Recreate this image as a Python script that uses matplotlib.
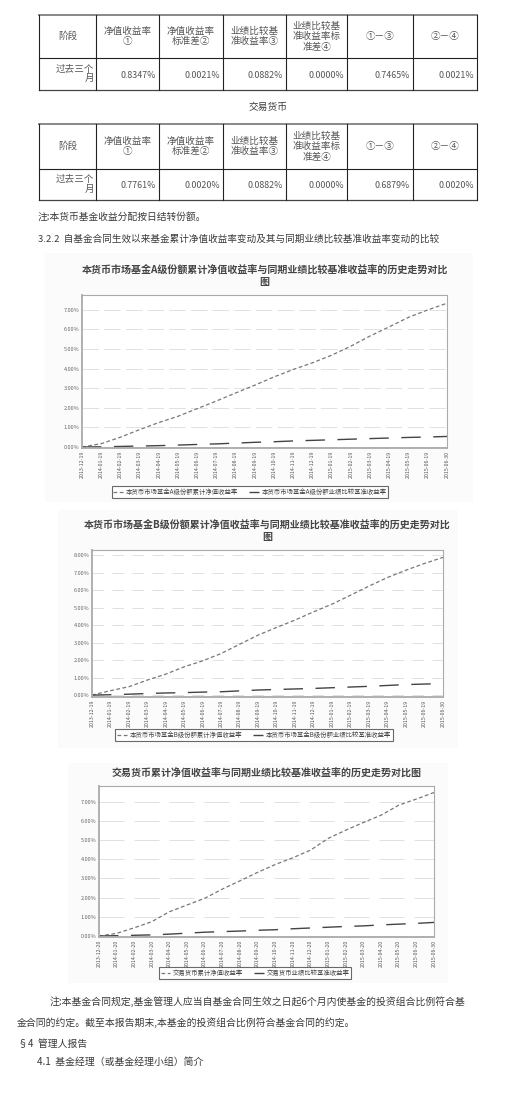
import matplotlib
matplotlib.use('Agg')
import matplotlib.pyplot as plt
from matplotlib.patches import Rectangle

plt.rcParams['font.family'] = ['Noto Sans CJK SC', 'DejaVu Sans']

W, H = 523, 1107

# --- table data ---
table_headers = ['阶段', '净值收益率\n①', '净值收益率\n标准差②', '业绩比较基\n准收益率③',
                 '业绩比较基\n准收益率标\n准差④', '①－③', '②－④']
period_label = '过去三个\n月'
table1_values = ['0.8347%', '0.0021%', '0.0882%', '0.0000%', '0.7465%', '0.0021%']
table2_values = ['0.7761%', '0.0020%', '0.0882%', '0.0000%', '0.6879%', '0.0020%']
table2_caption = '交易货币'

# --- chart data (cumulative %) ---
dates_ab = ['2013-12-19', '2014-01-19', '2014-02-19', '2014-03-19', '2014-04-19',
            '2014-05-19', '2014-06-19', '2014-07-19', '2014-08-19', '2014-09-19',
            '2014-10-19', '2014-11-19', '2014-12-19', '2015-01-19', '2015-02-19',
            '2015-03-19', '2015-04-19', '2015-05-19', '2015-06-19', '2015-06-30']
dates_trade = ['2013-12-20', '2014-01-20', '2014-02-20', '2014-03-20', '2014-04-20',
               '2014-05-20', '2014-06-20', '2014-07-20', '2014-08-20', '2014-09-20',
               '2014-10-20', '2014-11-20', '2014-12-20', '2015-01-20', '2015-02-20',
               '2015-03-20', '2015-04-20', '2015-05-20', '2015-06-20', '2015-06-30']

fund_a = [0.00, 0.17, 0.50, 0.89, 1.25, 1.57, 1.96, 2.35, 2.76, 3.16,
          3.58, 3.96, 4.30, 4.69, 5.15, 5.67, 6.14, 6.62, 7.00, 7.34]
bench_a = [0.00, 0.01, 0.03, 0.05, 0.07, 0.10, 0.13, 0.16, 0.20, 0.24,
           0.27, 0.31, 0.34, 0.37, 0.40, 0.43, 0.46, 0.49, 0.51, 0.54]

fund_b = [0.00, 0.25, 0.48, 0.86, 1.20, 1.62, 1.96, 2.38, 2.91, 3.43,
          3.87, 4.29, 4.76, 5.20, 5.71, 6.23, 6.72, 7.14, 7.52, 7.87]
bench_b = [0.00, 0.02, 0.05, 0.09, 0.12, 0.14, 0.17, 0.19, 0.24, 0.29,
           0.32, 0.35, 0.38, 0.42, 0.46, 0.50, 0.55, 0.60, 0.63, 0.66]

fund_t = [0.00, 0.14, 0.43, 0.75, 1.27, 1.62, 1.97, 2.45, 2.88, 3.32,
          3.73, 4.08, 4.48, 5.09, 5.52, 5.92, 6.30, 6.82, 7.14, 7.48]
bench_t = [0.00, 0.02, 0.04, 0.06, 0.10, 0.15, 0.20, 0.23, 0.26, 0.30,
           0.33, 0.38, 0.42, 0.46, 0.50, 0.53, 0.58, 0.62, 0.66, 0.71]

yticks_a = [0, 1, 2, 3, 4, 5, 6, 7]
yticks_b = [0, 1, 2, 3, 4, 5, 6, 7, 8]
yticks_t = [0, 1, 2, 3, 4, 5, 6, 7]

title_a = '本货币市场基金A级份额累计净值收益率与同期业绩比较基准收益率的历史走势对比\n图'
title_b = '本货币市场基金B级份额累计净值收益率与同期业绩比较基准收益率的历史走势对比\n图'
title_t = '交易货币累计净值收益率与同期业绩比较基准收益率的历史走势对比图'
legend_a = ['本货币市场基金A级份额累计净值收益率', '本货币市场基金A级份额业绩比较基准收益率']
legend_b = ['本货币市场基金B级份额累计净值收益率', '本货币市场基金B级份额业绩比较基准收益率']
legend_t = ['交易货币累计净值收益率', '交易货币业绩比较基准收益率']

TXT = '#3a3a3a'

fig = plt.figure(figsize=(W / 100, H / 100), dpi=100)
bg = fig.add_axes([0, 0, 1, 1])
bg.set_xlim(0, W)
bg.set_ylim(H, 0)
bg.axis('off')


def draw_table(top, head_h, row_h, values):
    cols = [39, 96, 159, 223, 286, 347, 413, 477]
    bottom = top + head_h + row_h
    bg.plot([cols[0], cols[-1]], [top, top], color='#888', lw=1.4)
    bg.plot([cols[0], cols[-1]], [top + head_h, top + head_h], color='#222', lw=0.8)
    bg.plot([cols[0], cols[-1]], [bottom, bottom], color='#444', lw=0.9)
    for x in cols:
        bg.plot([x, x], [top, bottom], color='#222', lw=0.8)
    for i, h in enumerate(table_headers):
        bg.text((cols[i] + cols[i + 1]) / 2, top + head_h / 2, h, ha='center', va='center',
                fontsize=6.9, color='#555', linespacing=1.15)
    bg.text(cols[1] - 2, top + head_h + row_h / 2, period_label, ha='right', va='center',
            multialignment='right', fontsize=6.9, color='#555', linespacing=1.1)
    for i, v in enumerate(values):
        bg.text(cols[i + 2] - 3, top + head_h + row_h / 2 + 1, v, ha='right', va='center',
                fontsize=6.4, color='#555')


draw_table(15, 43, 32, table1_values)
bg.text(268, 107, table2_caption, ha='center', va='center', fontsize=7, color=TXT)
draw_table(124, 45, 31, table2_values)

bg.text(38, 217, '注:本货币基金收益分配按日结转份额。', ha='left', va='center', fontsize=7, color=TXT)
bg.text(38, 239, '3.2.2  自基金合同生效以来基金累计净值收益率变动及其与同期业绩比较基准收益率变动的比较',
        ha='left', va='center', fontsize=6.9, color=TXT)

bg.text(50, 1002, '注:本基金合同规定,基金管理人应当自基金合同生效之日起6个月内使基金的投资组合比例符合基',
        ha='left', va='center', fontsize=7.1, color=TXT)
bg.text(17, 1023, '金合同的约定。截至本报告期末,本基金的投资组合比例符合基金合同的约定。',
        ha='left', va='center', fontsize=7.1, color=TXT)
bg.text(18, 1044, '§4  管理人报告', ha='left', va='center', fontsize=7.1, color=TXT)
bg.text(37, 1062, '4.1  基金经理（或基金经理小组）简介', ha='left', va='center', fontsize=7.1, color=TXT)


def draw_chart(box, plot, title, title_y, dates, fund, bench, yticks, ylim, labels, leg_xy,
               grid_style):
    # light chart background panel
    bg.add_patch(Rectangle((box[0], box[1]), box[2] - box[0], box[3] - box[1],
                           facecolor='#fbfbfb', edgecolor='none'))
    bg.text((plot[0] + plot[2]) / 2, title_y, title, ha='center', va='center',
            fontsize=7.2, fontweight='bold', color='#444', linespacing=1.25)
    l, t, r, b = plot
    ax = fig.add_axes([l / W, 1 - b / H, (r - l) / W, (b - t) / H])
    ax.set_facecolor('white')
    x = list(range(len(dates)))
    ax.plot(x, fund, color='#777', lw=0.9, dashes=(3, 2), label=labels[0])
    ax.plot(x, bench, color='#444', lw=1.0, dashes=(14, 9), label=labels[1])
    ax.set_xlim(0, len(dates) - 1)
    ax.set_ylim(*ylim)
    ax.set_yticks(yticks)
    ax.set_yticklabels(['%.2f%%' % v for v in yticks], fontsize=4, color='#666')
    ax.set_xticks(x)
    ax.set_xticklabels(dates, rotation=90, fontsize=3.8, color='#555')
    ax.tick_params(axis='both', length=0, pad=2)
    ax.yaxis.grid(True, color='#dcdcdc', lw=0.6, linestyle=grid_style)
    ax.set_axisbelow(True)
    for s in ax.spines.values():
        s.set_color('#aaa')
        s.set_linewidth(0.8)
    ax.spines['left'].set_linewidth(1.3)
    ax.spines['bottom'].set_linewidth(1.3)
    leg = ax.legend(loc='center', bbox_to_anchor=(leg_xy[0] / W, 1 - leg_xy[1] / H),
                    bbox_transform=fig.transFigure, ncol=2, fontsize=4.6, frameon=True,
                    fancybox=False, edgecolor='#444', borderpad=0.3, handlelength=1.5,
                    columnspacing=1.8, handletextpad=0.4)
    leg.get_frame().set_linewidth(0.8)
    for t_ in leg.get_texts():
        t_.set_color('#444')
    return ax


draw_chart((45, 253, 473, 502), (82, 295, 447, 448), title_a, 276, dates_ab, fund_a, bench_a,
           yticks_a, (-0.05, 7.76), legend_a, (250, 492), (0, (20, 6)))
draw_chart((58, 510, 458, 748), (92, 550, 443, 697), title_b, 531, dates_ab, fund_b, bench_b,
           yticks_b, (-0.11, 8.29), legend_b, (254, 735), (0, (14, 10)))
draw_chart((68, 763, 448, 983), (99, 786, 434, 937), title_t, 774, dates_trade, fund_t, bench_t,
           yticks_t, (-0.05, 7.82), legend_t, (255, 973), (0, (30, 12)))

fig.savefig('out.png', dpi=100)
